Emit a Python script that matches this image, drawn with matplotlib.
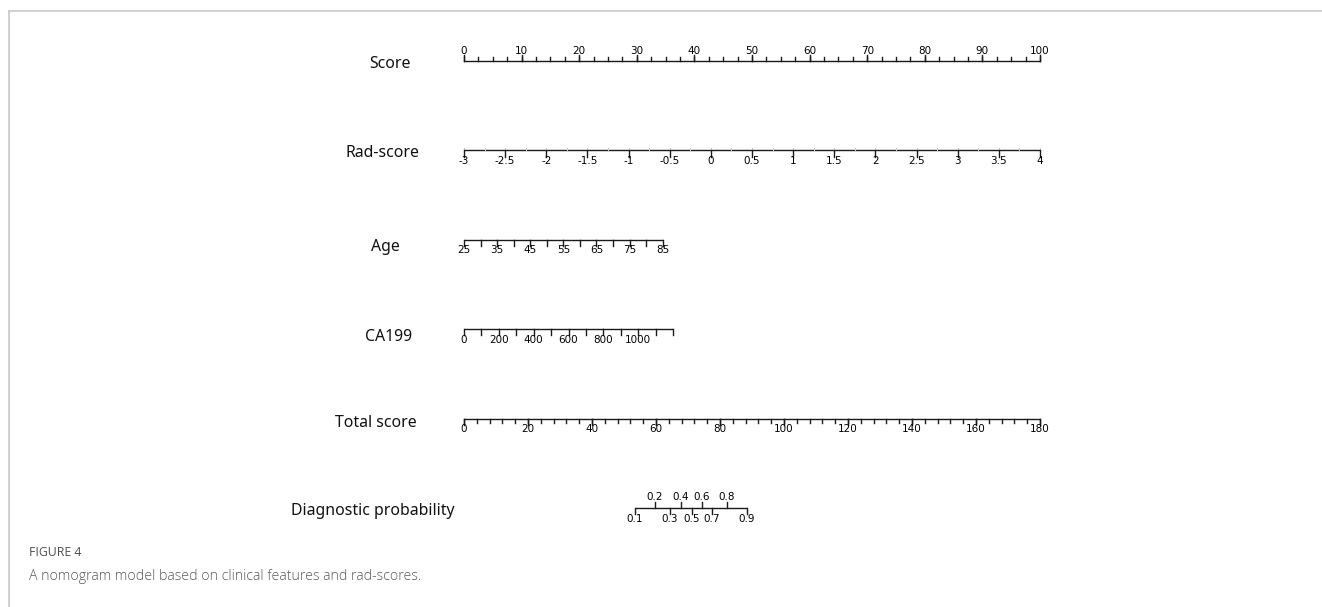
import matplotlib
matplotlib.use('Agg')
import matplotlib.pyplot as plt
import numpy as np

# row labels of the nomogram
ROW_LABELS = ['Score', 'Rad-score', 'Age', 'CA199', 'Total score', 'Diagnostic probability']

# Score (points) axis
score_major = [0, 10, 20, 30, 40, 50, 60, 70, 80, 90, 100]
score_minor = np.arange(0, 100.1, 2.5)

# Rad-score axis: -3 -> 0 points, 4 -> 100 points
rad_values = [-3, -2.5, -2, -1.5, -1, -0.5, 0, 0.5, 1, 1.5, 2, 2.5, 3, 3.5, 4]
rad_range = (-3, 4)

# Age axis: 25 -> 0 points, 85 -> 34.5 points
age_ticks = [25, 30, 35, 40, 45, 50, 55, 60, 65, 70, 75, 80, 85]
age_labels = [25, 35, 45, 55, 65, 75, 85]
age_points = (0, 34.5)

# CA199 axis: 0 -> 0 points, 1200 -> 36.3 points
ca_ticks = [0, 100, 200, 300, 400, 500, 600, 700, 800, 900, 1000, 1100, 1200]
ca_labels = [0, 200, 400, 600, 800, 1000]
ca_points = (0, 36.3)

# Total score axis
total_major = [0, 20, 40, 60, 80, 100, 120, 140, 160, 180]
total_minor = np.arange(0, 180.1, 4)

# Diagnostic probability: labels and the total score they sit at
prob_labels = [0.1, 0.2, 0.3, 0.4, 0.5, 0.6, 0.7, 0.8, 0.9]
prob_total = [53.4, 59.7, 64.4, 67.8, 71.2, 74.3, 77.4, 82.1, 88.4]

W, H = 1322, 607
fig = plt.figure(figsize=(W / 100, H / 100), dpi=100)

# axes so that 0..100 points spans the drawn scale width, rows 0..5 top to bottom
x0, x1 = 464, 1040
y0, y1 = 61, 508
ax = fig.add_axes([x0 / W, 1 - y1 / H, (x1 - x0) / W, (y1 - y0) / H])
ax.set_xlim(0, 100)
ax.set_ylim(5, 0)
ax.axis('off')

LC = '#1a1a1a'
LW = 1.0
TICK = 0.07     # major tick length in row units
MTICK = 0.045
FS = 7.5


def lin(v, vmin, vmax, pmin, pmax):
    return pmin + (np.asarray(v, dtype=float) - vmin) / (vmax - vmin) * (pmax - pmin)


def draw_line(row, xa, xb):
    ax.plot([xa, xb], [row, row], color=LC, lw=LW, solid_capstyle='butt', clip_on=False)


def draw_ticks(row, xs, length, up=True, color=LC, lw=LW):
    sgn = -1 if up else 1
    for x in np.atleast_1d(xs):
        ax.plot([x, x], [row, row + sgn * length], color=color, lw=lw, clip_on=False)


def tick_label(row, x, text, above=True, off=0.13):
    y = row - off if above else row + off
    ax.text(x, y, text, ha='center', va='bottom' if above else 'top', fontsize=FS,
            color='#000000', clip_on=False)


def fmt(v):
    return ('%g' % v)


# row 0: Score
draw_line(0, 0, 100)
draw_ticks(0, score_minor, MTICK, up=True)
draw_ticks(0, score_major, TICK, up=True)
for v in score_major:
    tick_label(0, v, fmt(v), above=True, off=0.06)

# row 1: Rad-score
rx = lin(rad_values, rad_range[0], rad_range[1], 0, 100)
draw_line(1, 0, 100)
draw_ticks(1, lin(np.arange(-3, 4.01, 0.25), -3, 4, 0, 100), 0.03, up=True, color='#cccccc', lw=0.8)
draw_ticks(1, rx, TICK, up=False)
for v, x in zip(rad_values, rx):
    tick_label(1, x, fmt(v), above=False, off=0.06)

# row 2: Age
ax_age = lin(age_ticks, age_ticks[0], age_ticks[-1], age_points[0], age_points[1])
draw_line(2, ax_age[0], ax_age[-1])
draw_ticks(2, ax_age, TICK, up=False)
for v in age_labels:
    tick_label(2, lin(v, age_ticks[0], age_ticks[-1], age_points[0], age_points[1]),
               fmt(v), above=False, off=0.06)

# row 3: CA199
ax_ca = lin(ca_ticks, ca_ticks[0], ca_ticks[-1], ca_points[0], ca_points[1])
draw_line(3, ax_ca[0], ax_ca[-1])
draw_ticks(3, ax_ca, TICK, up=False)
for v in ca_labels:
    tick_label(3, lin(v, ca_ticks[0], ca_ticks[-1], ca_points[0], ca_points[1]),
               fmt(v), above=False, off=0.06)

# row 4: Total score (0..180 over the same width)
tx = lin(total_major, 0, 180, 0, 100)
draw_line(4, 0, 100)
draw_ticks(4, lin(total_minor, 0, 180, 0, 100), MTICK, up=False)
draw_ticks(4, tx, TICK, up=False)
for v, x in zip(total_major, tx):
    tick_label(4, x, fmt(v), above=False, off=0.06)

# row 5: Diagnostic probability
px = lin(prob_total, 0, 180, 0, 100)
draw_line(5, px[0], px[-1])
for i, (v, x) in enumerate(zip(prob_labels, px)):
    up = (i % 2 == 1)
    draw_ticks(5, [x], TICK, up=up)
    tick_label(5, x, fmt(v), above=up, off=0.07)

# row labels (centre x in pixels, small vertical nudges)
label_cx = [390, 382, 385, 389, 376, 373]
label_dy = [0.03, 0.03, 0.08, 0.09, 0.05, 0.03]
for i, lab in enumerate(ROW_LABELS):
    ax.text(lin(label_cx[i], x0, x1, 0, 100), i + label_dy[i], lab, ha='center', va='center',
            fontsize=11.4, family=['Noto Sans', 'DejaVu Sans'], color='#111111', clip_on=False)

# frame lines of the page
fig.add_artist(plt.Line2D([9 / W, 1], [1 - 11 / H, 1 - 11 / H], color='#c8c8c8', lw=1.2))
fig.add_artist(plt.Line2D([9 / W, 9 / W], [0, 1 - 11 / H], color='#c8c8c8', lw=1.2))

# caption
fig.text(29 / W, 1 - 552 / H, 'FIGURE 4', fontsize=8.8, color='#4d4d4d',
         family=['Open Sans', 'DejaVu Sans'], ha='left', va='center')
fig.text(29 / W, 1 - 576 / H, 'A nomogram model based on clinical features and rad-scores.',
         fontsize=10.2, color='#5a5a5a', family=['Open Sans', 'DejaVu Sans'],
         ha='left', va='center', fontweight='light')

fig.savefig('out.png', dpi=100)
